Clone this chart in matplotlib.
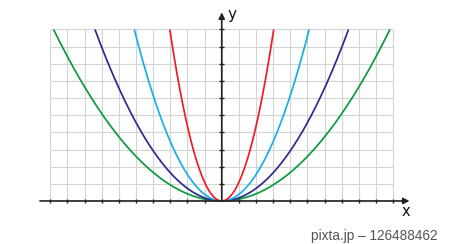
import numpy as np
import matplotlib
matplotlib.use("Agg")
import matplotlib.pyplot as plt

coefs = [0.104, 0.183, 0.385, 1.09]
colors = ["#0b9a3e", "#2b2b8f", "#18aee8", "#ee1c25"]

grid_x = list(range(-10, 11))
grid_y = list(range(0, 11))
ticks_x = [i for i in range(-10, 11) if i != 0]
ticks_y = list(range(1, 11))

fig = plt.figure(figsize=(4.5, 2.44), dpi=100)
ax = fig.add_axes([0, 0, 1, 1])
ax.set_xlim(-12.93, 13.31)
ax.set_ylim(-2.51, 11.72)
ax.axis("off")

# light grid, upper half only
ax.vlines(grid_x, 0, 10, color="#d4d4d4", lw=0.8, zorder=1)
ax.hlines(grid_y, -10, 10, color="#d4d4d4", lw=0.8, zorder=1)

# parabolas, clipped at the top of the grid
for a, c in zip(coefs, colors):
    xmax = np.sqrt(10 / a)
    xs = np.linspace(-xmax, xmax, 400)
    ax.plot(xs, a * xs ** 2, color=c, lw=1.25, zorder=3, solid_capstyle="butt")

# axes with arrows
ax.annotate("", xy=(10.95, 0), xytext=(-10.6, 0),
            arrowprops=dict(arrowstyle="-|>", lw=1.2, color="#222222",
                            mutation_scale=9, shrinkA=0, shrinkB=0), zorder=4)
ax.annotate("", xy=(0, 11.0), xytext=(0, 0),
            arrowprops=dict(arrowstyle="-|>", lw=1.2, color="#222222",
                            mutation_scale=9, shrinkA=0, shrinkB=0), zorder=4)

# tick marks
ax.vlines(ticks_x, -0.1, 0.1, color="#222222", lw=1.0, zorder=4)
ax.hlines(ticks_y, -0.14, 0.14, color="#222222", lw=1.0, zorder=4)

ax.text(0.35, 10.85, "y", fontsize=11, ha="left", va="center", color="#111111")
ax.text(10.75, -0.6, "x", fontsize=10.5, ha="center", va="center", color="#111111")

ax.text(12.6, -2.05, "pixta.jp – 126488462", fontsize=9.8, ha="right",
        va="center", color="#555555", family=["Liberation Sans", "DejaVu Sans"])

fig.savefig("out.png", dpi=100)
